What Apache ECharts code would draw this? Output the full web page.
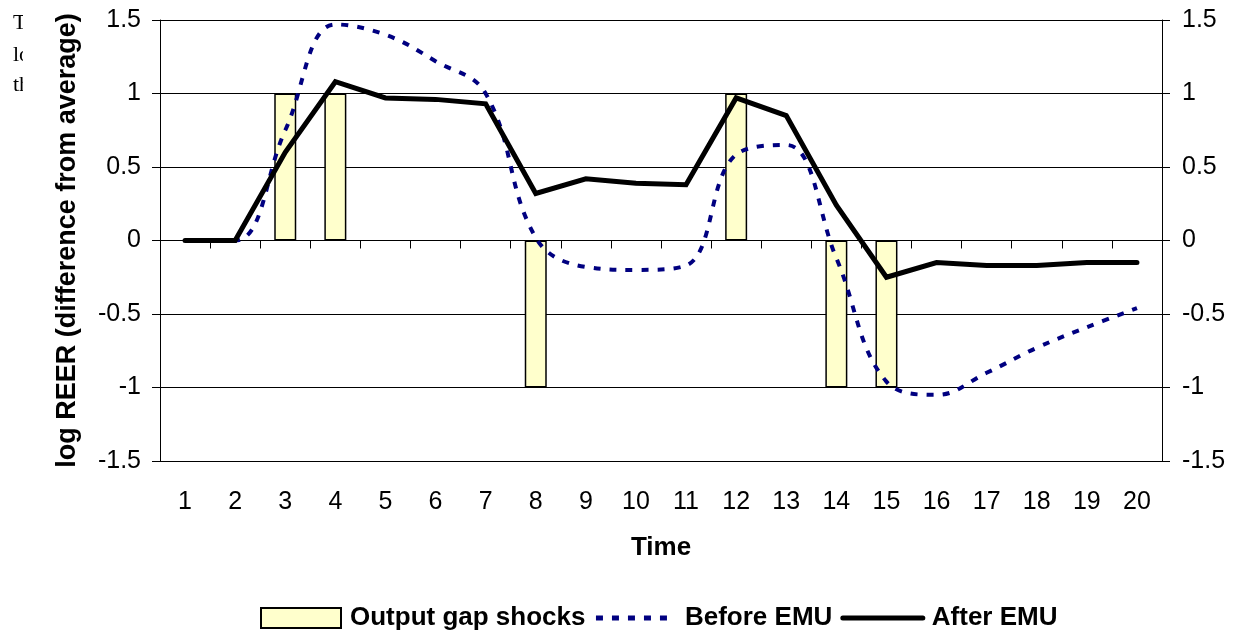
<!DOCTYPE html>
<html>
<head>
<meta charset="utf-8">
<script src="https://cdn.jsdelivr.net/npm/echarts@6/dist/echarts.min.js"></script>
<style>
  html, body { margin: 0; padding: 0; background: #fff; }
  #main { width: 1244px; height: 638px; }
</style>
</head>
<body>
<div id="main"></div>
<script>
// time periods
var periods = ['1','2','3','4','5','6','7','8','9','10','11','12','13','14','15','16','17','18','19','20'];
// output gap shocks (null = no shock)
var shocks = [null, null, 1, 1, null, null, null, -1, null, null, null, 1, null, -1, -1, null, null, null, null, null];
// log REER before EMU
var beforeEMU = [0, 0, 0.75, 1.47, 1.40, 1.22, 1.0, 0.02, -0.18, -0.2, -0.17, 0.585, 0.65, -0.12, -0.96, -1.05, -0.9, -0.73, -0.59, -0.46];
// log REER after EMU
var afterEMU = [0, 0, 0.6, 1.08, 0.97, 0.96, 0.93, 0.32, 0.42, 0.39, 0.38, 0.97, 0.85, 0.24, -0.25, -0.15, -0.17, -0.17, -0.15, -0.15];

var myChart = echarts.init(document.getElementById('main'));
var font = 'Liberation Sans, Arial, sans-serif';

myChart.setOption({
    animation: false,
    backgroundColor: '#fff',
    textStyle: { fontFamily: font, color: '#000' },
    //左边被截断的正文
    graphic: [
        { type: 'text', left: 13, top: 12, style: { text: 'Th', font: '22px "Liberation Serif", serif', fill: '#000' } },
        { type: 'text', left: 13, top: 44, style: { text: 'lo', font: '22px "Liberation Serif", serif', fill: '#000' } },
        { type: 'text', left: 13, top: 74, style: { text: 'th', font: '22px "Liberation Serif", serif', fill: '#000' } },
        { type: 'rect', left: 23, top: 0, shape: { width: 20, height: 110 }, style: { fill: '#fff' } }
    ],
    grid: { left: 160, right: 82, top: 20, bottom: 177 },
    legend: {
        bottom: 2,
        left: 255,
        itemWidth: 80,
        itemHeight: 20,
        itemGap: 8,
        textStyle: { fontSize: 26, fontWeight: 'bold', color: '#000', fontFamily: font, padding: [0, 0, 0, 4] },
        data: [
            { name: 'Output gap shocks', icon: 'rect' },
            { name: 'Before EMU', itemStyle: { opacity: 0 }, lineStyle: { width: 5 } },
            { name: 'After EMU', itemStyle: { opacity: 0 }, lineStyle: { width: 5 } }
        ]
    },
    xAxis: [
        {
            type: 'category',
            data: periods,
            axisLine: { onZero: true, lineStyle: { color: '#000', width: 1 } },
            axisTick: { show: true, length: 8, lineStyle: { color: '#000' } },
            axisLabel: { show: false },
            splitLine: { show: false }
        },
        {
            type: 'category',
            data: periods,
            position: 'bottom',
            axisLine: { show: false, onZero: false },
            axisTick: { show: false },
            axisLabel: { show: true, margin: 29, fontSize: 25, color: '#000', fontFamily: font },
            name: 'Time',
            nameLocation: 'middle',
            nameGap: 74,
            nameTextStyle: { fontSize: 26, fontWeight: 'bold', color: '#000', fontFamily: font }
        }
    ],
    yAxis: [
        {
            type: 'value',
            min: -1.5,
            max: 1.5,
            interval: 0.5,
            position: 'left',
            axisLine: { show: true, lineStyle: { color: '#000' } },
            axisTick: { show: true, length: 8, lineStyle: { color: '#000' } },
            axisLabel: { margin: 19, fontSize: 25, color: '#000', fontFamily: font },
            splitLine: { show: true, lineStyle: { color: '#000', width: 1 } },
            name: 'log REER (difference from average)',
            nameLocation: 'middle',
            nameGap: 79,
            nameTextStyle: { fontSize: 27, fontWeight: 'bold', color: '#000', fontFamily: font }
        },
        {
            type: 'value',
            min: -1.5,
            max: 1.5,
            interval: 0.5,
            position: 'right',
            axisLine: { show: true, lineStyle: { color: '#000' } },
            axisTick: { show: true, length: 8, lineStyle: { color: '#000' } },
            axisLabel: { margin: 20, fontSize: 25, color: '#000', fontFamily: font },
            splitLine: { show: false }
        }
    ],
    series: [
        {
            name: 'Output gap shocks',
            type: 'bar',
            xAxisIndex: 0,
            yAxisIndex: 0,
            barWidth: 22,
            data: shocks,
            itemStyle: { color: '#FFFFCC', borderColor: '#000', borderWidth: 1.5 }
        },
        {
            name: 'Before EMU',
            type: 'line',
            xAxisIndex: 0,
            yAxisIndex: 0,
            smooth: 0.4,
            symbol: 'none',
            data: beforeEMU,
            itemStyle: { color: '#000080' },
            lineStyle: { color: '#000080', width: 4, type: [7, 9] },
            z: 3
        },
        {
            name: 'After EMU',
            type: 'line',
            xAxisIndex: 0,
            yAxisIndex: 0,
            symbol: 'none',
            data: afterEMU,
            itemStyle: { color: '#000' },
            lineStyle: { color: '#000', width: 5, cap: 'round', join: 'miter' },
            z: 4
        }
    ]
});
</script>
</body>
</html>
